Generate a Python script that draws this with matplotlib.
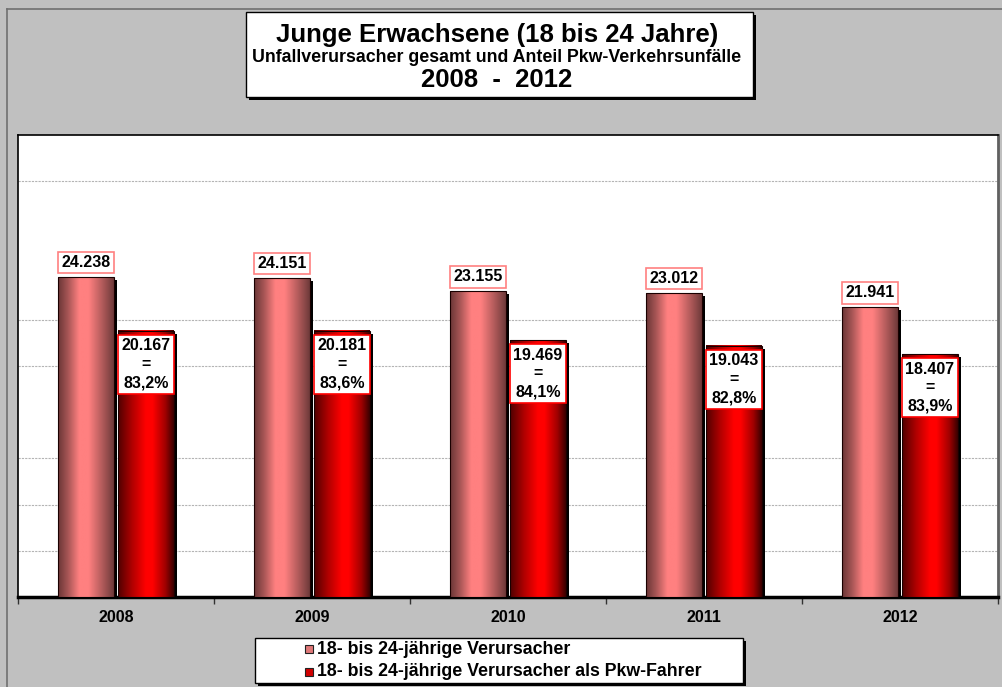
import numpy as np
import matplotlib
matplotlib.use("Agg")
import matplotlib.pyplot as plt
import matplotlib.transforms as mtransforms
from matplotlib.colors import LinearSegmentedColormap
from matplotlib.patches import Rectangle

plt.rcParams['font.family'] = ['Liberation Sans', 'DejaVu Sans']
plt.rcParams['font.weight'] = 'bold'

# data
jahre = ['2008', '2009', '2010', '2011', '2012']
verursacher = [24238, 24151, 23155, 23012, 21941]
pkw_fahrer = [20167, 20181, 19469, 19043, 18407]
gitter = [3500, 7000, 10500, 17500, 21000, 31500]
legende = ['18- bis 24-jährige Verursacher',
           '18- bis 24-jährige Verursacher als Pkw-Fahrer']

W, H = 1002, 687
fig = plt.figure(figsize=(W / 100, H / 100), dpi=100, facecolor='#c0c0c0')

def fx(x):
    return x / W

def fy(y):
    return 1 - y / H

# outer border
fig.add_artist(plt.Line2D([fx(7), fx(7)], [fy(9), 0], color='#707070', lw=1.2))
fig.add_artist(plt.Line2D([fx(7), 1], [fy(9), fy(9)], color='#707070', lw=1.2))

ax = fig.add_axes([fx(18), fy(597), fx(998) - fx(18), fy(135) - fy(597)])
ax.set_facecolor('white')
ax.set_xlim(-0.5, 4.5)
ax.set_ylim(0, 35000)

for g in gitter:
    ax.axhline(g, color='#b4b4b4', lw=0.8, ls=(0, (2, 1)), zorder=1)

cm_rosa = LinearSegmentedColormap.from_list('rosa', [
    (0.0, '#6a3636'), (0.18, '#a85656'), (0.38, '#ff8080'), (0.55, '#ff8080'),
    (0.8, '#b05a5a'), (1.0, '#6e3a3a')])
cm_rot = LinearSegmentedColormap.from_list('rot', [
    (0.0, '#500000'), (0.25, '#b00000'), (0.5, '#ff0000'), (0.62, '#ff0000'),
    (0.85, '#a00000'), (1.0, '#3a0000')])
grad = np.linspace(0, 1, 200).reshape(1, -1)

schatten = mtransforms.offset_copy(ax.transData, fig=fig, x=3, y=-3, units='dots')
breite = 0.283
versatz = 0.153

def saeule(xm, h, cmap):
    x0 = xm - breite / 2
    ax.add_patch(Rectangle((x0, 0), breite, h, facecolor='black', edgecolor='none',
                           transform=schatten, zorder=2, clip_on=True))
    ax.imshow(grad, cmap=cmap, extent=[x0, x0 + breite, 0, h], aspect='auto',
              zorder=3, interpolation='bilinear')
    ax.add_patch(Rectangle((x0, 0), breite, h, facecolor='none', edgecolor='#1a0000',
                           lw=0.8, zorder=4))

def de_zahl(v):
    return f'{v:,}'.replace(',', '.')

for i in range(len(jahre)):
    a, b = verursacher[i], pkw_fahrer[i]
    saeule(i - versatz, a, cm_rosa)
    saeule(i + versatz, b, cm_rot)
    ax.annotate(de_zahl(a), (i - versatz, a), xytext=(0, 5), textcoords='offset points',
                ha='center', va='bottom', fontsize=11.5, fontweight='bold', zorder=6,
                bbox=dict(boxstyle='square,pad=0.2', fc='white', ec='#ff8080', lw=1.2))
    anteil = f'{b / a * 100:.1f}'.replace('.', ',')
    ax.annotate(f'{de_zahl(b)}\n=\n{anteil}%', (i + versatz, b), xytext=(0, -5.5),
                textcoords='offset points', ha='center', va='top', fontsize=11.5,
                fontweight='bold', linespacing=1.3, zorder=6,
                bbox=dict(boxstyle='square,pad=0.2', fc='white', ec='#ff0000', lw=1.2))

ax.set_xlim(-0.5, 4.5)
ax.set_ylim(0, 35000)
ax.set_yticks([])
ax.set_xticks(range(5))
ax.set_xticklabels(jahre, fontsize=11.5, fontweight='bold')
ax.tick_params(axis='x', which='major', length=0, pad=9)
ax.set_xticks(np.arange(-0.5, 5, 1), minor=True)
ax.tick_params(axis='x', which='minor', length=5, width=1, direction='out', color='#333333')
ax.spines['bottom'].set_linewidth(2.5)
ax.spines['top'].set_linewidth(1.2)
ax.spines['left'].set_linewidth(1.2)
ax.spines['right'].set_color('#606060')
ax.spines['right'].set_linewidth(2)

# title box
def kasten(x0, y0, x1, y1):
    fig.add_artist(Rectangle((fx(x0 + 3), fy(y1 + 3)), fx(x1 - x0), fy(y0) - fy(y1),
                             transform=fig.transFigure, fc='black', ec='none', zorder=5))
    fig.add_artist(Rectangle((fx(x0), fy(y1)), fx(x1 - x0), fy(y0) - fy(y1),
                             transform=fig.transFigure, fc='white', ec='black', lw=1,
                             zorder=6))

kasten(246, 12, 753, 97)
fig.text(fx(497), fy(35), 'Junge Erwachsene (18 bis 24 Jahre)', ha='center', va='center',
         fontsize=18.5, fontweight='bold', zorder=7)
fig.text(fx(497), fy(57), 'Unfallverursacher gesamt und Anteil Pkw-Verkehrsunfälle',
         ha='center', va='center', fontsize=12.8, fontweight='bold', zorder=7)
fig.text(fx(497), fy(80), '2008  -  2012', ha='center', va='center', fontsize=18.5,
         fontweight='bold', zorder=7)

# legend
kasten(255, 638, 743, 683)
farben = ['#e07878', '#d00000']
for k, (txt, fc) in enumerate(zip(legende, farben)):
    yy = 649 + k * 23
    fig.add_artist(Rectangle((fx(305), fy(yy + 4)), fx(8), fy(0) - fy(8),
                             transform=fig.transFigure, fc=fc, ec='#222222', lw=0.8,
                             zorder=7))
    fig.text(fx(317), fy(yy), txt, ha='left', va='center', fontsize=12.8,
             fontweight='bold', zorder=7)

fig.savefig('out.png', dpi=100, facecolor=fig.get_facecolor())
